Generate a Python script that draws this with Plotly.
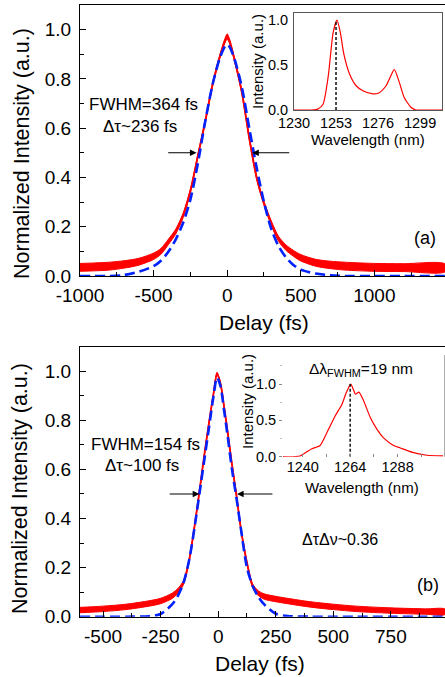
import plotly.graph_objects as go

W, H = 445, 677
def px(x): return x / W
def py(y): return 1 - y / H

# ---------------- data ----------------
# Panel (a): autocorrelation trace
a_delay = [-1000, -900, -800, -700, -600, -500, -450, -400, -350, -300, -250, -200, -150, -100,
           -50, -15, 0, 15, 50, 100, 150, 200, 250, 300, 350, 400, 450, 500, 600, 700, 800,
           1000, 1200, 1480]
a_meas = [0.035, 0.037, 0.040, 0.047, 0.058, 0.080, 0.100, 0.138, 0.180, 0.245, 0.345, 0.485,
          0.625, 0.775, 0.89, 0.955, 0.972, 0.955, 0.878, 0.745, 0.56, 0.40, 0.295, 0.214,
          0.150, 0.115, 0.092, 0.074, 0.054, 0.045, 0.040, 0.035, 0.034, 0.033]
a_noise = [0.016, 0.016, 0.016, 0.015, 0.014, 0.013, 0.012, 0.011, 0.010, 0.009, 0.008, 0.007,
           0.007, 0.007, 0.007, 0.009, 0.011, 0.009, 0.007, 0.007, 0.007, 0.007, 0.008, 0.009,
           0.010, 0.011, 0.012, 0.013, 0.014, 0.015, 0.016, 0.016, 0.016, 0.016]
a_fit = [0.0, 0.0, 0.0, 0.004, 0.018, 0.040, 0.062, 0.098, 0.148, 0.215, 0.31, 0.455, 0.625,
         0.775, 0.885, 0.932, 0.94, 0.932, 0.88, 0.765, 0.60, 0.44, 0.30, 0.19, 0.12, 0.075,
         0.045, 0.026, 0.010, 0.003, 0.0, 0.0, 0.0, 0.0]
a_xticks = [-1000, -500, 0, 500, 1000]
a_xticklabels = ["-1000", "-500", "0", "500", "1000"]
a_arrow_tips = [-208, 170]
a_arrow_tails = [-411, 432]

# Panel (a) inset spectrum
a_nm = [1230, 1240, 1243, 1245.9, 1248.7, 1251.4, 1253.5, 1255.4, 1257.2, 1260.4, 1264, 1267.7,
        1273.1, 1276.4, 1280.4, 1284.9, 1287.6, 1290.3, 1294, 1296.7, 1300, 1311]
a_spec = [0, 0, 0.01, 0.064, 0.37, 0.86, 1.0, 0.86, 0.63, 0.40, 0.27, 0.215, 0.18, 0.19, 0.27,
          0.45, 0.31, 0.14, 0.03, 0.0, 0, 0]
a_peak_nm = 1253
a_nm_ticks = [1230, 1253, 1276, 1299]

# Panel (b): autocorrelation trace
b_delay = [-600, -500, -400, -300, -250, -200, -175, -150, -125, -100, -80, -60, -40, -20, -5,
           10, 25, 40, 60, 80, 100, 125, 150, 175, 200, 250, 300, 400, 500, 600, 750, 900, 985]
b_meas = [0.027, 0.032, 0.040, 0.054, 0.064, 0.085, 0.105, 0.14, 0.235, 0.385, 0.52, 0.66,
          0.79, 0.91, 0.99, 0.95, 0.86, 0.76, 0.62, 0.49, 0.35, 0.22, 0.125, 0.095, 0.082,
          0.072, 0.064, 0.050, 0.040, 0.032, 0.025, 0.021, 0.020]
b_noise = [0.011, 0.011, 0.011, 0.011, 0.011, 0.011, 0.010, 0.008, 0.005, 0.003, 0.003, 0.003,
           0.003, 0.003, 0.006, 0.003, 0.003, 0.003, 0.003, 0.003, 0.003, 0.005, 0.008, 0.010,
           0.011, 0.011, 0.011, 0.011, 0.011, 0.011, 0.011, 0.011, 0.011]
b_fit = [0, 0, 0, 0.002, 0.011, 0.05, 0.085, 0.14, 0.235, 0.38, 0.51, 0.64, 0.77, 0.90, 0.975,
         0.94, 0.845, 0.745, 0.60, 0.48, 0.35, 0.20, 0.125, 0.08, 0.05, 0.012, 0.003, 0, 0, 0,
         0, 0, 0]
b_xticks = [-500, -250, 0, 250, 500, 750]
b_xticklabels = ["-500", "-250", "0", "250", "500", "750"]
b_arrow_tips = [-82, 82]
b_arrow_tails = [-217, 242]

# Panel (b) inset spectrum
b_nm = [1230, 1238.6, 1244.6, 1248.8, 1252.2, 1256.4, 1259.8, 1262, 1264.3, 1265.7, 1266.7,
        1268.4, 1270.8, 1274.2, 1277.5, 1280.9, 1286, 1289.4, 1296.1, 1302.9, 1311]
b_spec = [0, 0.01, 0.11, 0.155, 0.33, 0.56, 0.72, 0.88, 1.0, 0.92, 0.86, 0.89, 0.77, 0.54, 0.38,
          0.26, 0.155, 0.12, 0.055, 0.02, 0.01]
b_peak_nm = 1264
b_nm_ticks = [1240, 1264, 1288]

y_ticks = [0.0, 0.2, 0.4, 0.6, 0.8, 1.0]
inset_yticks = [0.0, 0.5, 1.0]

# ---------------- figure ----------------
FONT = "Liberation Sans, Arial, sans-serif"
RED = "#ff0000"
BLUE = "#0022ff"

fig = go.Figure()

def add_panel(delay, meas, noise, fit, xa, ya):
    upper = [m + n for m, n in zip(meas, noise)]
    lower = [m - n for m, n in zip(meas, noise)]
    fig.add_trace(go.Scatter(x=delay + delay[::-1], y=upper + lower[::-1], fill="toself",
                             fillcolor=RED, line=dict(color=RED, width=1, shape="spline", smoothing=0.8),
                             mode="lines", xaxis=xa, yaxis=ya, hoverinfo="skip", showlegend=False))
    fig.add_trace(go.Scatter(x=delay, y=meas, mode="lines",
                             line=dict(color=RED, width=1.8, shape="spline", smoothing=0.8),
                             xaxis=xa, yaxis=ya, showlegend=False))
    fig.add_trace(go.Scatter(x=delay, y=fit, mode="lines",
                             line=dict(color=BLUE, width=2.6, dash="10px,5px", shape="spline", smoothing=0.8),
                             xaxis=xa, yaxis=ya, showlegend=False))

add_panel(a_delay, a_meas, a_noise, a_fit, "x", "y")
add_panel(b_delay, b_meas, b_noise, b_fit, "x2", "y2")

def add_inset(nm, spec, peak, xa, ya):
    fig.add_trace(go.Scatter(x=nm, y=spec, mode="lines",
                             line=dict(color=RED, width=1.2, shape="spline", smoothing=0.6),
                             xaxis=xa, yaxis=ya, showlegend=False))
    fig.add_trace(go.Scatter(x=[peak, peak], y=[0, 1], mode="lines",
                             line=dict(color="black", width=1.4, dash="3px,2px"),
                             xaxis=xa, yaxis=ya, showlegend=False))

add_inset(a_nm, a_spec, a_peak_nm, "x3", "y3")
add_inset(b_nm, b_spec, b_peak_nm, "x4", "y4")

tickfont = dict(family=FONT, size=19, color="black")
insetfont = dict(family=FONT, size=14.5, color="black")

def main_x(domain_y_anchor, rng, tv, tt, minor_dt):
    return dict(range=rng, showline=True, linecolor="black", linewidth=1.3, mirror=True,
                ticks="inside", ticklen=6, tickwidth=1.2, tickcolor="black",
                tickvals=tv, ticktext=tt, tickfont=tickfont, showgrid=False, zeroline=False,
                ticklabelstandoff=2,
                minor=dict(ticks="inside", ticklen=3.5, tickwidth=1.2, tickcolor="black", dtick=minor_dt, tick0=0),
                automargin=False, anchor=domain_y_anchor, domain=[px(80), 1.0])

def main_y(dom, anchor):
    return dict(range=[0, 1.1], showline=True, linecolor="black", linewidth=1.3, mirror=False,
                ticks="inside", ticklen=6, tickwidth=1.2, tickcolor="black",
                tickvals=y_ticks, tickformat=".1f", tickfont=tickfont, showgrid=False,
                zeroline=False, ticklabelstandoff=4,
                minor=dict(ticks="inside", ticklen=3.5, tickwidth=1.2, tickcolor="black", dtick=0.1, tick0=0),
                automargin=False, anchor=anchor, domain=dom)

fig.update_layout(
    width=W, height=H, autosize=False,
    margin=dict(l=0, r=0, t=0, b=0),
    paper_bgcolor="white", plot_bgcolor="rgba(0,0,0,0)",
    font=dict(family=FONT, color="black"),
    xaxis=main_x("y", [-1000, 1480], a_xticks, a_xticklabels, 250),
    yaxis=main_y([py(276), py(5)], "x"),
    xaxis2=main_x("y2", [-600, 985], b_xticks, b_xticklabels, 125),
    yaxis2=main_y([py(616.7), py(346.7)], "x2"),
    xaxis3=dict(range=[1230, 1311], domain=[px(294), px(442)], anchor="y3",
                showline=True, linecolor="#555555", linewidth=1, mirror=True, ticks="", ticklen=0,
                tickvals=a_nm_ticks, tickfont=insetfont, showgrid=False, zeroline=False,
                automargin=False, ticklabelstandoff=0),
    yaxis3=dict(range=[0, 1.08], domain=[py(110), py(13)], anchor="x3",
                showline=True, linecolor="#555555", linewidth=1, mirror=True, ticks="", ticklen=0,
                tickvals=inset_yticks, tickformat=".1f", tickfont=insetfont, showgrid=False,
                zeroline=False, automargin=False, ticklabelstandoff=2),
    xaxis4=dict(range=[1230, 1312], domain=[px(283), 1.0], anchor="y4",
                showline=False, ticks="inside", ticklen=3, tickcolor="#888888",
                tickvals=b_nm_ticks, tickfont=insetfont, showgrid=False, zeroline=False,
                minor=dict(ticks="inside", ticklen=3, tickcolor="#888888", dtick=12, tick0=1240),
                automargin=False),
    yaxis4=dict(range=[0, 1.4], domain=[py(456.7), py(355)], anchor="x4",
                showline=False, ticks="outside", ticklen=3, tickcolor="#888888",
                tickvals=inset_yticks, tickformat=".1f", tickfont=insetfont, showgrid=False,
                zeroline=False, automargin=False,
                minor=dict(ticks="outside", ticklen=2, tickcolor="#bbbbbb", dtick=0.25, tick0=0)),
)

# right frame line of inset (b)
fig.add_shape(type="line", xref="x4 domain", yref="y4 domain", x0=1, x1=1, y0=0, y1=1,
              line=dict(color="#777777", width=1.2))

ann = []
def text(x, y, s, size, angle=0):
    ann.append(dict(x=px(x), y=py(y), xref="paper", yref="paper", text=s, showarrow=False,
                    font=dict(family=FONT, size=size, color="black"), textangle=angle,
                    xanchor="center", yanchor="middle"))

# axis titles
text(264, 322, "Delay (fs)", 21)
text(260, 663, "Delay (fs)", 21)
text(22, 154, "Normalized Intensity (a.u.)", 21.5, -90)
text(20, 489, "Normalized Intensity (a.u.)", 21.5, -90)
text(368, 139, "Wavelength (nm)", 15)
text(258, 62, "Intensity (a.u.)", 15, -90)
text(362, 487, "Wavelength (nm)", 15)
text(247, 402, "Intensity (a.u.)", 15, -90)

# annotations
text(143, 105, "FWHM=364 fs", 17)
text(140, 126, "Δτ~236 fs", 17)
text(425, 238, "(a)", 18)
text(145, 444, "FWHM=154 fs", 17)
text(142, 465, "Δτ~100 fs", 17)
text(340, 539, "ΔτΔν~0.36", 16)
text(428, 585, "(b)", 18)
text(361, 369, "Δλ<sub>FWHM</sub>=19 nm", 15.5)

def arrows(tips, tails, xa, ya):
    for tip, tail in zip(tips, tails):
        ann.append(dict(x=tip, y=0.5, ax=tail, ay=0.5, xref=xa, yref=ya, axref=xa, ayref=ya,
                        showarrow=True, arrowhead=2, arrowsize=1.2, arrowwidth=1.1,
                        arrowcolor="black", text=""))

arrows(a_arrow_tips, a_arrow_tails, "x", "y")
arrows(b_arrow_tips, b_arrow_tails, "x2", "y2")

fig.update_layout(annotations=ann)
fig.write_html("out.html")
